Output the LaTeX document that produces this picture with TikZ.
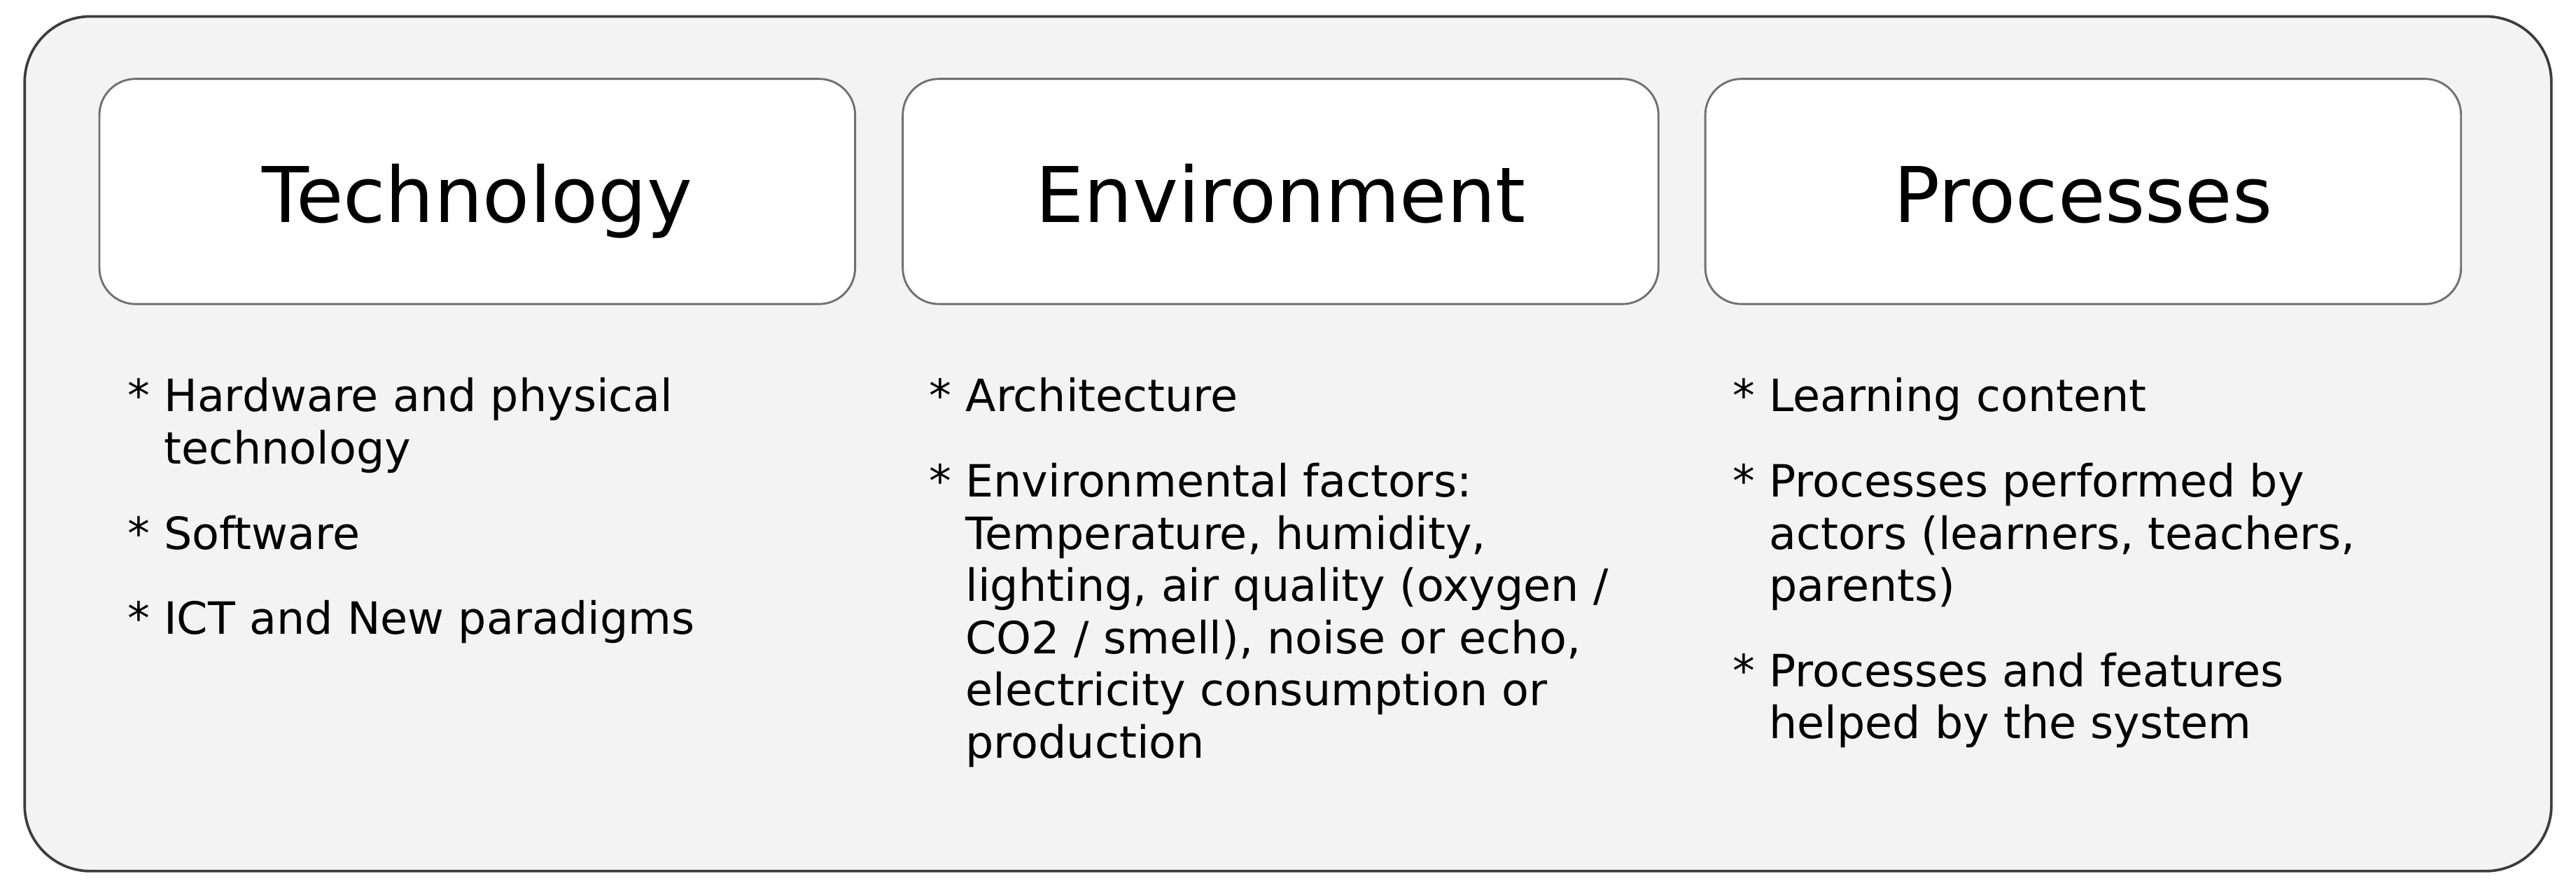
\documentclass[tikz,border=0pt]{standalone}
\usepackage{fontspec}
\setmainfont{DejaVu Sans}
\usepackage{tikz}
\definecolor{panelgray}{HTML}{F3F3F3}
\definecolor{framegray}{HTML}{3C3C3C}
\definecolor{boxgray}{HTML}{707070}
\newcommand{\starpad}{\phantom{*~}}
\tikzstyle{header}=[
        draw=boxgray,
        fill=white,
        line width=0.35pt,
        rounded corners=0.22cm,
        minimum width=4.6cm,
        minimum height=1.37cm,
        text height=0.46cm,
        text depth=0.08cm,
        font=\fontsize{13.3}{15}\selectfont
]
\tikzstyle{item}=[
        anchor=base west,
        align=left,
        inner sep=0pt,
        font=\fontsize{7.7}{9.05}\selectfont
]

\begin{document}
\begin{tikzpicture}
                    \useasboundingbox (0,0) rectangle (15.68,5.40);
                    \draw[framegray, fill=panelgray, line width=0.45pt, rounded corners=0.4cm] (0.15,0.10) rectangle (15.53,5.30);

                    \node[header] (tech) at (2.905,4.235) {Technology};
                    \node[header] (env) at (7.795,4.235) {Environment};
                    \node[header] (proc) at (12.68,4.235) {Processes};

                    % base anchor sits on the last line of a node
                    \node[item] (tech1) at (0.77,2.577) {* Hardware and physical\\\starpad technology};
                    \node[item] (tech2) at (0.77,2.059) {* Software};
                    \node[item] (tech3) at (0.77,1.541) {* ICT and New paradigms};

                    \node[item] (env1) at (5.65,2.895) {* Architecture};
                    \node[item] (env2) at (5.65,0.787) {* Environmental factors:\\\starpad Temperature, humidity,\\\starpad lighting, air quality (oxygen /\\\starpad CO2 / smell), noise or echo,\\\starpad electricity consumption or\\\starpad production};

                    \node[item] (proc1) at (10.54,2.895) {* Learning content};
                    \node[item] (proc2) at (10.54,1.741) {* Processes performed by\\\starpad actors (learners, teachers,\\\starpad parents)};
                    \node[item] (proc3) at (10.54,0.905) {* Processes and features\\\starpad helped by the system};

                \end{tikzpicture}
\end{document}
